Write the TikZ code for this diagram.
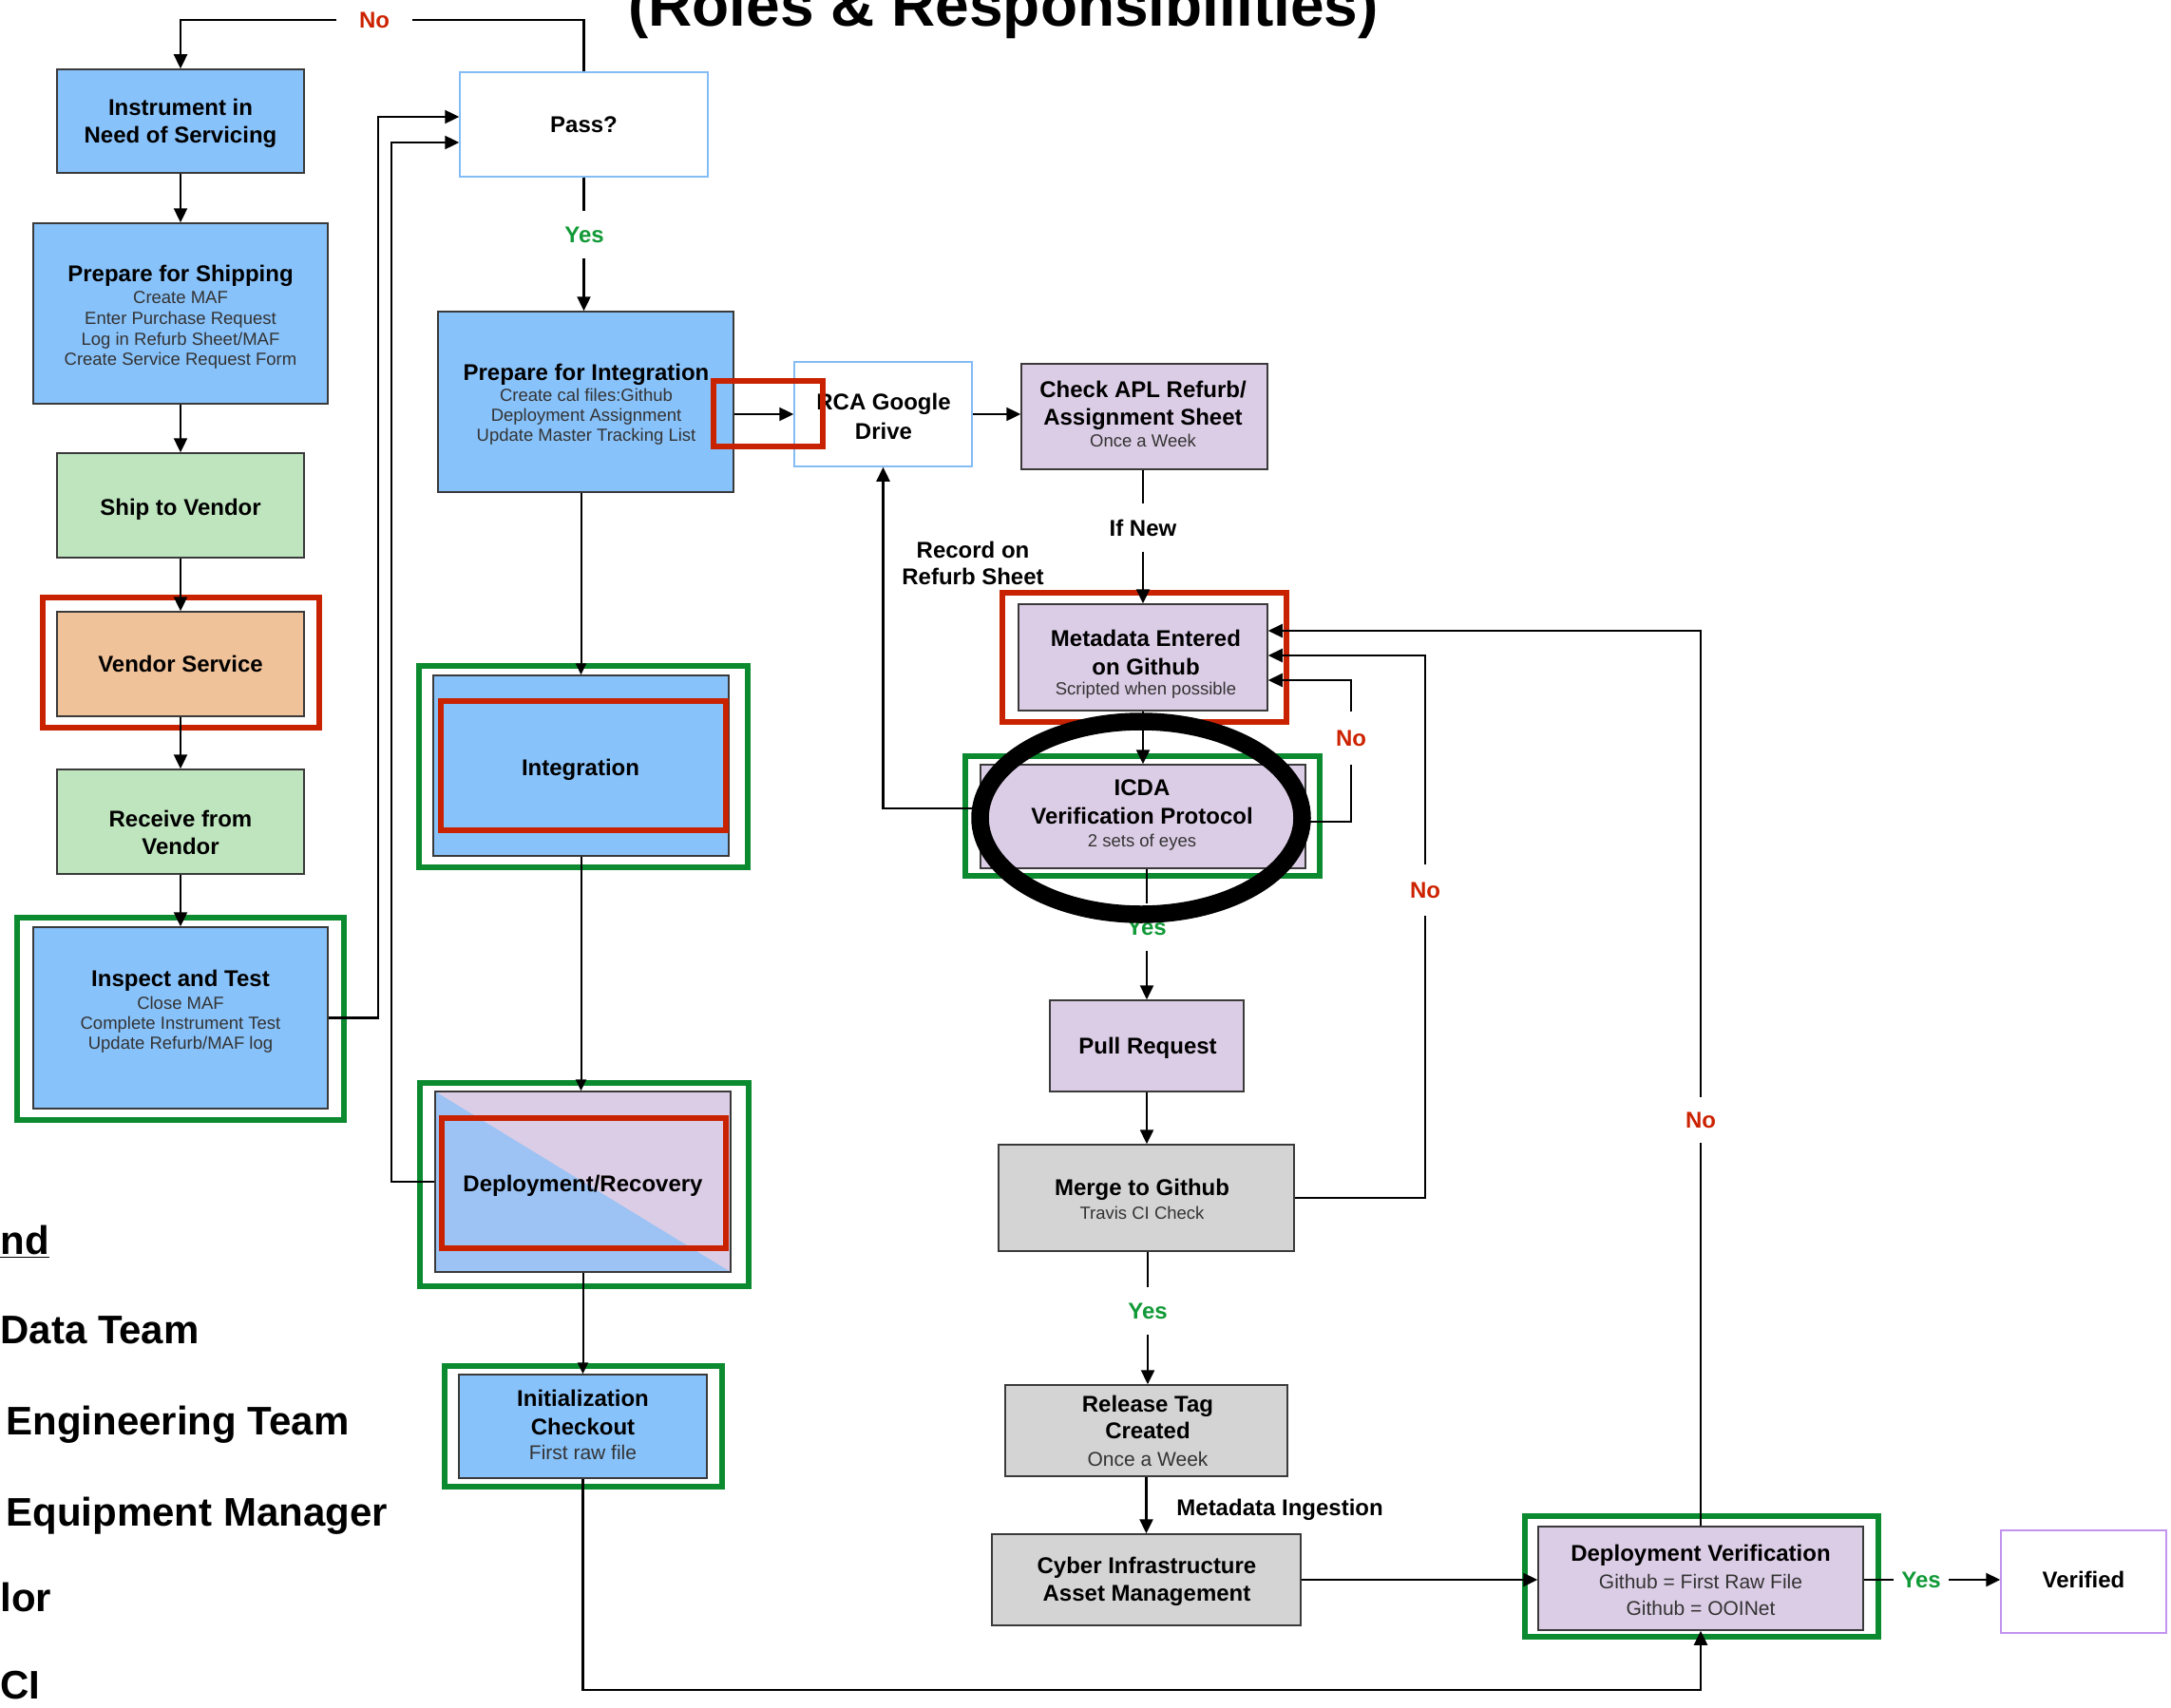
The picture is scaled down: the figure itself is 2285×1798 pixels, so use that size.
\documentclass[tikz,border=0pt]{standalone}
\usepackage{fontspec}
\setmainfont{Liberation Sans}
\usetikzlibrary{arrows.meta}

\definecolor{boxblue}{HTML}{88C2FA}
\definecolor{depblue}{HTML}{9CC3F4}
\definecolor{lav}{HTML}{DCCDE6}
\definecolor{mint}{HTML}{BEE5BE}
\definecolor{peach}{HTML}{F0C29A}
\definecolor{lgray}{HTML}{D4D4D4}
\definecolor{frred}{HTML}{C82200}
\definecolor{frgreen}{HTML}{0B8A2F}
\definecolor{yesgreen}{HTML}{119A37}
\definecolor{nored}{HTML}{CC2200}
\definecolor{edge}{HTML}{3A3A3A}
\definecolor{skyedge}{HTML}{84BCF5}
\definecolor{violetedge}{HTML}{C293F0}
\definecolor{subtext}{HTML}{333333}

% box: options, name, centre (px), width (pt), height (pt)
\newcommand{\mybox}[5]{\node[box,#1,minimum width=#4pt,minimum height=#5pt] (#2) at (#3) {};}

\begin{document}
\begin{tikzpicture}[x=0.5pt,y=-0.5pt,
  box/.style={draw=edge,line width=0.75pt,rectangle,inner sep=0pt},
  conn/.style={line width=1.2pt,black},
  arr/.style={conn,-{Triangle[length=7.5pt,width=7pt]}},
  tarr/.style={line width=1pt,black,-{Triangle[length=6pt,width=5.5pt]}},
  frame/.style={line width=3pt},
  ttl/.style={font=\fontsize{12}{14}\selectfont\bfseries,anchor=base,inner sep=0pt},
  sub/.style={font=\fontsize{9.25}{11}\selectfont,text=subtext,anchor=base,inner sep=0pt},
  subL/.style={font=\fontsize{10.5}{12}\selectfont,text=subtext,anchor=base,inner sep=0pt},
  lbl/.style={font=\fontsize{12}{14}\selectfont\bfseries,inner sep=0pt,minimum height=25pt},
  leg/.style={font=\fontsize{21}{25}\selectfont\bfseries,anchor=base west,inner sep=0pt}]

\useasboundingbox (0,0) rectangle (2285,1798);
\clip (0,0) rectangle (2285,1798);
\fill[white] (0,0) rectangle (2285,1798);

% heading (runs off the top edge) and legend (runs off the left edge)
\node[font=\fontsize{32}{38}\selectfont\bfseries,anchor=base,inner sep=0pt] (title) at (1056,28) {(Roles \& Responsibilities)};
\node[leg] (legH) at (0,1320) {\underline{nd}};
\node[leg] (leg1) at (0,1414) {Data Team};
\node[leg] (leg2) at (6,1510) {Engineering Team};
\node[leg] (leg3) at (6,1606) {Equipment Manager};
\node[leg] (leg4) at (0,1696) {lor};
\node[leg] (leg5) at (0,1788) {CI};

% process boxes
\mybox{fill=boxblue}{ins}{190,127.5}{130}{54.5}
\mybox{fill=white,draw=skyedge}{pass}{614.5,131}{130.5}{55}
\mybox{fill=boxblue}{ship}{190,330}{155}{95}
\mybox{fill=mint}{shipv}{190,532}{130}{55}
\mybox{fill=peach}{vend}{190,699}{130}{55}
\mybox{fill=mint}{recv}{190,865}{130}{55}
\mybox{fill=boxblue}{insp}{190,1071.5}{155}{95.5}
\mybox{fill=boxblue}{prep}{616.5,423}{155.5}{95}
\mybox{fill=white,draw=skyedge}{rca}{929.5,436}{93.5}{55}
\mybox{fill=lav}{apl}{1204.5,438.5}{129.5}{55.5}
\mybox{fill=lav}{meta}{1203,692}{131}{56}
\mybox{fill=lav}{icda}{1203,859.5}{171}{54.5}
\mybox{fill=lav}{pull}{1207,1101}{102}{48}
\mybox{fill=lgray}{merge}{1206.5,1261}{155.5}{56}
\mybox{fill=lgray}{rel}{1206.5,1506}{148.5}{48}
\mybox{fill=lgray}{cyber}{1206.5,1663}{162.5}{48}
\mybox{fill=lav}{dv}{1790,1661.5}{171}{54.5}
\mybox{fill=white,draw=violetedge}{ver}{2193,1665}{87}{54}
\mybox{fill=boxblue}{integ}{611.5,806}{155.5}{95}
\mybox{fill=lav,path picture={\fill[depblue] (path picture bounding box.north west) -- (path picture bounding box.south west) -- (path picture bounding box.south east) -- cycle;}}{dep}{613.5,1244}{155.5}{95}
\mybox{fill=boxblue}{init}{613.5,1501.5}{130.5}{54.5}

% box texts
\node[ttl] (insT1) at (190,121.5) {Instrument in};
\node[ttl] (insT2) at (190,150.5) {Need of Servicing};
\node[ttl] (passT) at (614.5,139.5) {Pass?};
\node[ttl] (shipT) at (190,296.5) {Prepare for Shipping};
\node[sub] (shipS1) at (190,319.6) {Create MAF};
\node[sub] (shipS2) at (190,341.6) {Enter Purchase Request};
\node[sub] (shipS3) at (190,363.6) {Log in Refurb Sheet/MAF};
\node[sub] (shipS4) at (190,384.6) {Create Service Request Form};
\node[ttl] (shipvT) at (190,542.5) {Ship to Vendor};
\node[ttl] (vendT) at (190,707.5) {Vendor Service};
\node[ttl] (recvT1) at (190,870.5) {Receive from};
\node[ttl] (recvT2) at (190,899.5) {Vendor};
\node[ttl] (inspT) at (190,1038.5) {Inspect and Test};
\node[sub] (inspS1) at (190,1062.6) {Close MAF};
\node[sub] (inspS2) at (190,1083.6) {Complete Instrument Test};
\node[sub] (inspS3) at (190,1104.6) {Update Refurb/MAF log};
\node[ttl] (prepT) at (617,400.5) {Prepare for Integration};
\node[sub] (prepS1) at (617,422.6) {Create cal files:Github};
\node[sub] (prepS2) at (617,443.6) {Deployment Assignment};
\node[sub] (prepS3) at (617,464.6) {Update Master Tracking List};
\node[ttl] (rcaT1) at (930,431.5) {RCA Google};
\node[ttl] (rcaT2) at (930,462) {Drive};
\node[ttl] (aplT1) at (1203,418.5) {Check APL Refurb/};
\node[ttl] (aplT2) at (1203,447.5) {Assignment Sheet};
\node[sub] (aplS) at (1203,470) {Once a Week};
\node[ttl] (metaT1) at (1206,680.5) {Metadata Entered};
\node[ttl] (metaT2) at (1206,710.5) {on Github};
\node[sub] (metaS) at (1206,731.6) {Scripted when possible};
\node[ttl] (icdaT1) at (1202,837.5) {ICDA};
\node[ttl] (icdaT2) at (1202,867.5) {Verification Protocol};
\node[sub] (icdaS) at (1202,891.6) {2 sets of eyes};
\node[ttl] (pullT) at (1208,1109.5) {Pull Request};
\node[ttl] (mergeT) at (1202,1258.5) {Merge to Github};
\node[sub] (mergeS) at (1202,1283.6) {Travis CI Check};
\node[ttl] (relT1) at (1208,1486.5) {Release Tag};
\node[ttl] (relT2) at (1208,1514.5) {Created};
\node[subL] (relS) at (1208,1543.5) {Once a Week};
\node[ttl] (cyberT1) at (1207,1656.5) {Cyber Infrastructure};
\node[ttl] (cyberT2) at (1207,1685.5) {Asset Management};
\node[ttl] (dvT) at (1790,1643.5) {Deployment Verification};
\node[subL] (dvS1) at (1790,1672.5) {Github = First Raw File};
\node[subL] (dvS2) at (1790,1700.5) {Github = OOINet};
\node[ttl] (verT) at (2193,1671.5) {Verified};
\node[ttl] (integT) at (611,816.5) {Integration};
\node[ttl] (depT) at (613.5,1254.5) {Deployment/Recovery};
\node[ttl] (initT1) at (613.5,1480.5) {Initialization};
\node[ttl] (initT2) at (613.5,1510.5) {Checkout};
\node[subL] (initS) at (613.5,1536.5) {First raw file};

% role frames
\draw[frame,frred] (45,629) rectangle (336,766);
\draw[frame,frgreen] (18,966) rectangle (362,1179);
\draw[frame,frred] (751,401) rectangle (866,470);
\draw[frame,frred] (1055,624) rectangle (1354,760);
\draw[frame,frgreen] (1016,796) rectangle (1389,922);
\draw[frame,frgreen] (1605,1596) rectangle (1977,1723);
\draw[frame,frgreen] (441,701) rectangle (787,913);
\draw[frame,frred] (464,738) rectangle (764,874);
\draw[frame,frgreen] (442,1140) rectangle (788,1354);
\draw[frame,frred] (465,1177) rectangle (764,1314);
\draw[frame,frgreen] (468,1438) rectangle (760,1565);

% decision labels
\node[lbl,text=nored,minimum width=39.5pt,minimum height=0pt] (no0) at (394,21) {No};
\node[lbl,text=yesgreen] (yes0) at (615,247) {Yes};
\node[lbl] (ifnew) at (1203,555.5) {If New};
\node[ttl] (rec1) at (1024,587.5) {Record on};
\node[ttl] (rec2) at (1024,615.5) {Refurb Sheet};
\node[lbl,text=nored,minimum height=28pt] (no1) at (1422,777) {No};
\node[lbl,text=nored,minimum height=27pt] (no2) at (1500,937) {No};
\node[lbl,text=nored,minimum height=24pt] (no3) at (1790,1179) {No};
\node[lbl,text=yesgreen] (yes2) at (1207,976) {Yes};
\node[lbl,text=yesgreen] (yes3) at (1208,1380) {Yes};
\node[ttl,anchor=base west] (ming) at (1238,1595.5) {Metadata Ingestion};
\node[lbl,text=yesgreen,minimum width=29pt,minimum height=0pt] (yes4) at (2022,1663) {Yes};

% junction points
\coordinate (j1) at (398,123);
\coordinate (j2) at (412,150);
\coordinate (j3) at (929.5,851);
\coordinate (j4) at (1790,1779);
\coordinate (j5) at (1790,664);
\coordinate (j6) at (1500,690);
\coordinate (j7) at (1422,865);
\coordinate (j8) at (1422,716);

% connectors
\draw[conn] (pass.north) |- (no0.east);
\draw[arr] (no0.west) -| (ins.north);
\draw[conn] (pass.south) -- (pass.south |- yes0.north);
\draw[arr] (yes0.south -| pass.south) -- (pass.south |- prep.north);

\draw[arr] (ins.south) -- (ship.north);
\draw[arr] (ship.south) -- (shipv.north);
\draw[arr] (shipv.south) -- (vend.north);
\draw[arr] (vend.south) -- (recv.north);
\draw[arr] (recv.south) -- (insp.north);
\draw[arr] (insp.east) -| (j1) -- (j1 -| pass.west);
\draw[arr] (dep.west) -| (j2) -- (j2 -| pass.west);

\draw[arr] (prep.east |- rca.west) -- (rca.west);
\draw[arr] (rca.east) -- (rca.east -| apl.west);
\draw[conn] (ifnew.north |- apl.south) -- (ifnew.north);
\draw[arr] (ifnew.south) -- (ifnew.south |- meta.north);
\draw[arr] (meta.south) -- (meta.south |- icda.north);
\draw[arr] (j3 -| icda.west) -- (j3) -- (rca.south);

\draw[conn] (yes2.north |- icda.south) -- (yes2.north);
\draw[arr] (yes2.south) -- (yes2.south |- pull.north);
\draw[arr] (pull.south) -- (pull.south |- merge.north);
\draw[conn] (yes3.north |- merge.south) -- (yes3.north);
\draw[arr] (yes3.south) -- (yes3.south |- rel.north);
\draw[arr] (rel.south) -- (rel.south |- cyber.north);
\draw[arr] (cyber.east) -- (cyber.east -| dv.west);
\draw[conn] (dv.east |- yes4.west) -- (yes4.west);
\draw[arr] (yes4.east) -- (yes4.east -| ver.west);

\draw[arr] (init.south) |- (j4) -- (dv.south);
\draw[conn] (dv.north) -- (no3.south);
\draw[arr] (no3.north) -- (j5) -- (j5 -| meta.east);
\draw[conn] (merge.east) -| (no2.south);
\draw[arr] (no2.north) -- (j6) -- (j6 -| meta.east);
\draw[conn] (j7 -| icda.east) -- (j7) -- (no1.south);
\draw[arr] (no1.north) -- (j8) -- (j8 -| meta.east);

\draw[tarr] (integ.north |- prep.south) -- (integ.north);
\draw[tarr] (integ.south) -- (integ.south |- dep.north);
\draw[tarr] (dep.south) -- (init.north);

% highlight ring
\draw[line width=9.25pt] (1201,861) ellipse [x radius=169.5, y radius=101.5];

\end{tikzpicture}
\end{document}
